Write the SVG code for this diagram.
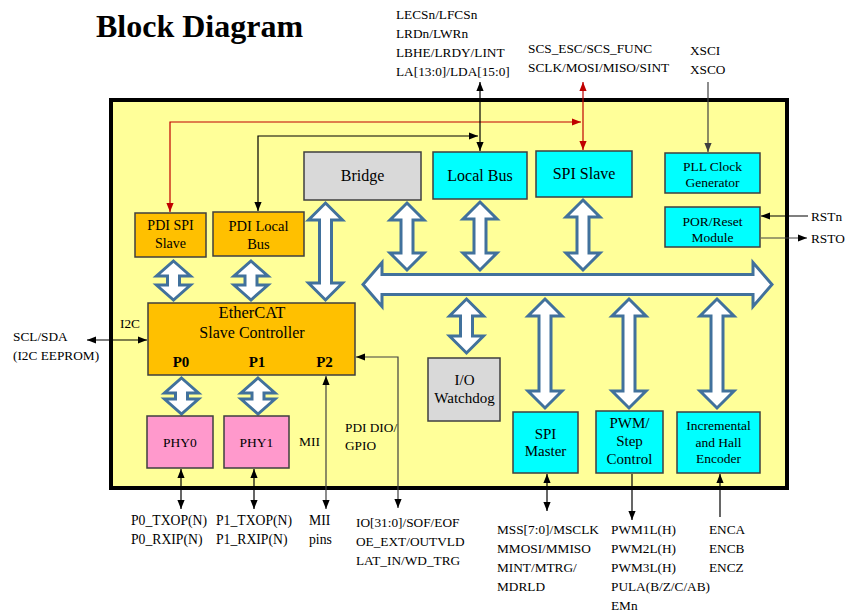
<svg xmlns="http://www.w3.org/2000/svg" width="856" height="616" viewBox="0 0 856 616">
<defs>
<style>
text{font-family:"Liberation Serif","Times New Roman",serif;fill:#000}
.t{font-size:13.3px}
.bx{stroke:#3f3f3f;stroke-width:1.5}
.or{fill:#ffc000}.cy{fill:#00ffff}.gy{fill:#d9d9d9}.pk{fill:#ff99cc}
.ba{fill:#fff;stroke:#41719c;stroke-width:3;stroke-linejoin:miter}
.ln{fill:none;stroke:#000;stroke-width:1.2}
.lr{fill:none;stroke:#c00000;stroke-width:1.2}
.lg{fill:none;stroke:#404040;stroke-width:1.2}
.c{text-anchor:middle}
</style>
<marker id="ah" viewBox="0 0 10 10" refX="10" refY="5" markerWidth="9" markerHeight="9" orient="auto-start-reverse" markerUnits="userSpaceOnUse"><path d="M0,1 L10,5 L0,9 Z" fill="#000"/></marker>
<marker id="ar" viewBox="0 0 10 10" refX="10" refY="5" markerWidth="9" markerHeight="9" orient="auto-start-reverse" markerUnits="userSpaceOnUse"><path d="M0,1 L10,5 L0,9 Z" fill="#c00000"/></marker>
<marker id="ag" viewBox="0 0 10 10" refX="10" refY="5" markerWidth="9" markerHeight="9" orient="auto-start-reverse" markerUnits="userSpaceOnUse"><path d="M0,1 L10,5 L0,9 Z" fill="#404040"/></marker>
</defs>
<rect width="856" height="616" fill="#fff"/>
<text x="96" y="37" style="font-size:32px;font-weight:bold">Block Diagram</text>

<g id="chip"><rect x="111" y="100" width="676" height="388" fill="#ffff99" stroke="#000" stroke-width="4"/></g>

<g id="buses">
<path class="ba" d="M363,284.5 L382,262.5 L382,274.5 L753,274.5 L753,262.5 L772,284.5 L753,306.5 L753,294.5 L382,294.5 L382,306.5 Z"/>
<path class="ba" d="M407,203 L424,220 L413,220 L413,253 L424,253 L407,270 L390,253 L401,253 L401,220 L390,220 Z"/>
<path class="ba" d="M480,202 L497,219 L486,219 L486,253 L497,253 L480,270 L463,253 L474,253 L474,219 L463,219 Z"/>
<path class="ba" d="M583,200 L600,217 L589,217 L589,253 L600,253 L583,270 L566,253 L577,253 L577,217 L566,217 Z"/>
<path class="ba" d="M325.5,203 L342.5,220 L331.5,220 L331.5,283 L342.5,283 L325.5,300 L308.5,283 L319.5,283 L319.5,220 L308.5,220 Z"/>
<path class="ba" d="M466.5,299 L483.5,316 L472.5,316 L472.5,336 L483.5,336 L466.5,353 L449.5,336 L460.5,336 L460.5,316 L449.5,316 Z"/>
<path class="ba" d="M545,299 L562,316 L551,316 L551,391 L562,391 L545,408 L528,391 L539,391 L539,316 L528,316 Z"/>
<path class="ba" d="M629,299 L646,316 L635,316 L635,391 L646,391 L629,408 L612,391 L623,391 L623,316 L612,316 Z"/>
<path class="ba" d="M717,299 L734,316 L723,316 L723,391 L734,391 L717,408 L700,391 L711,391 L711,316 L700,316 Z"/>
<path class="ba" d="M173.5,261 L190.5,276 L179.5,276 L179.5,285 L190.5,285 L173.5,300 L156.5,285 L167.5,285 L167.5,276 L156.5,276 Z"/>
<path class="ba" d="M251,261 L268,276 L257,276 L257,285 L268,285 L251,300 L234,285 L245,285 L245,276 L234,276 Z"/>
<path class="ba" d="M181.5,378 L198.5,393 L187.5,393 L187.5,399 L198.5,399 L181.5,414 L164.5,399 L175.5,399 L175.5,393 L164.5,393 Z"/>
<path class="ba" d="M258,378 L275,393 L264,393 L264,399 L275,399 L258,414 L241,399 L252,399 L252,393 L241,393 Z"/>
</g>

<g id="bridge"><rect class="bx gy" x="304" y="152" width="117" height="48"/><text class="c" x="362.5" y="181" style="font-size:16px">Bridge</text></g>
<g id="localbus"><rect class="bx cy" x="433" y="152" width="94" height="47"/><text class="c" x="480" y="181" style="font-size:16px">Local Bus</text></g>
<g id="spislave"><rect class="bx cy" x="536" y="151" width="96" height="46"/><text class="c" x="584" y="179" style="font-size:16px">SPI Slave</text></g>
<g id="pll"><rect class="bx cy" x="665" y="153" width="95" height="40"/><text class="c" x="712.5" y="171" style="font-size:13.5px">PLL Clock</text><text class="c" x="712.5" y="187" style="font-size:13.5px">Generator</text></g>
<g id="por"><rect class="bx cy" x="665" y="207" width="95" height="40"/><text class="c" x="712.5" y="226" style="font-size:13.5px">POR/Reset</text><text class="c" x="712.5" y="242" style="font-size:13.5px">Module</text></g>
<g id="pdispi"><rect class="bx or" x="135" y="213" width="71" height="44"/><text class="c" x="170.5" y="230" style="font-size:14px">PDI SPI</text><text class="c" x="170.5" y="248" style="font-size:14px">Slave</text></g>
<g id="pdilb"><rect class="bx or" x="213" y="212" width="91" height="44"/><text class="c" x="258.5" y="231" style="font-size:14.5px">PDI Local</text><text class="c" x="258.5" y="249" style="font-size:14.5px">Bus</text></g>
<g id="esc"><rect class="bx or" x="148" y="303" width="207" height="72"/><text class="c" x="252" y="318" style="font-size:16.5px">EtherCAT</text><text class="c" x="252" y="338" style="font-size:16px">Slave Controller</text>
<text class="c" x="181" y="367" style="font-size:15px;font-weight:bold">P0</text><text class="c" x="257" y="367" style="font-size:15px;font-weight:bold">P1</text><text class="c" x="324.5" y="367" style="font-size:15px;font-weight:bold">P2</text></g>
<g id="phy0"><rect class="bx pk" x="147" y="416" width="66" height="52"/><text class="c" x="180" y="447" style="font-size:13.5px">PHY0</text></g>
<g id="phy1"><rect class="bx pk" x="224" y="416" width="65" height="52"/><text class="c" x="256.5" y="447" style="font-size:13.5px">PHY1</text></g>
<g id="watchdog"><rect class="bx gy" x="428" y="358" width="72" height="63"/><text class="c" x="464.5" y="385" style="font-size:15px">I/O</text><text class="c" x="464.5" y="403" style="font-size:15px">Watchdog</text></g>
<g id="spimaster"><rect class="bx cy" x="513" y="412" width="65" height="61"/><text class="c" x="545.5" y="439" style="font-size:15px">SPI</text><text class="c" x="545.5" y="456" style="font-size:15px">Master</text></g>
<g id="pwm"><rect class="bx cy" x="596" y="411" width="67" height="62"/><text class="c" x="629.5" y="428" style="font-size:15px">PWM/</text><text class="c" x="629.5" y="446" style="font-size:15px">Step</text><text class="c" x="629.5" y="464" style="font-size:15px">Control</text></g>
<g id="encoder"><rect class="bx cy" x="677" y="412" width="83" height="61"/><text class="c" x="718.5" y="430" style="font-size:13.5px">Incremental</text><text class="c" x="718.5" y="447" style="font-size:13.5px">and Hall</text><text class="c" x="718.5" y="463" style="font-size:13.5px">Encoder</text></g>

<g id="connectors">
<path class="lr" d="M583,82 V150" marker-start="url(#ar)" marker-end="url(#ar)"/>
<path class="lr" d="M581,122 H170 V212" marker-start="url(#ar)" marker-end="url(#ar)"/>
<path class="ln" d="M480,82 V151" marker-start="url(#ah)" marker-end="url(#ah)"/>
<path class="ln" d="M478,136 H258 V211" marker-start="url(#ah)" marker-end="url(#ah)"/>
<path class="lg" d="M708,82 V152" marker-end="url(#ag)"/>
<path class="ln" d="M808,216 H761" marker-end="url(#ah)"/>
<path class="lg" d="M761,238 H807" marker-end="url(#ah)"/>
<path class="ln" d="M87,340 H147" marker-start="url(#ah)" marker-end="url(#ah)"/>
<path class="ln" d="M181,469 V509" marker-start="url(#ah)" marker-end="url(#ah)"/>
<path class="ln" d="M254,469 V509" marker-start="url(#ah)" marker-end="url(#ah)"/>
<path class="lg" d="M326,376 V509" marker-start="url(#ah)" marker-end="url(#ah)"/>
<path class="lg" d="M356,357 H398 V508" marker-start="url(#ah)" marker-end="url(#ah)"/>
<path class="ln" d="M547,474 V511" marker-start="url(#ah)" marker-end="url(#ah)"/>
<path class="ln" d="M632,474 V520" marker-end="url(#ah)"/>
<path class="ln" d="M720,517 V474" marker-end="url(#ah)"/>
</g>

<g id="labels" class="t">
<text x="396" y="19">LECSn/LFCSn</text>
<text x="396" y="38">LRDn/LWRn</text>
<text x="396" y="57">LBHE/LRDY/LINT</text>
<text x="396" y="76">LA[13:0]/LDA[15:0]</text>
<text x="528" y="53">SCS_ESC/SCS_FUNC</text>
<text x="528" y="72">SCLK/MOSI/MISO/SINT</text>
<text x="690" y="55">XSCI</text>
<text x="690" y="74">XSCO</text>
<text x="811" y="221">RSTn</text>
<text x="811" y="243">RSTO</text>
<text x="120" y="328">I2C</text>
<text x="13" y="341">SCL/SDA</text>
<text x="13" y="360">(I2C EEPROM)</text>
<text x="299" y="446" style="font-size:13.5px">MII</text>
<text x="345" y="432">PDI DIO/</text>
<text x="345" y="450">GPIO</text>
<g style="font-size:13.7px">
<text x="131" y="525">P0_TXOP(N)</text>
<text x="131" y="544">P0_RXIP(N)</text>
<text x="216" y="525">P1_TXOP(N)</text>
<text x="216" y="544">P1_RXIP(N)</text>
<text x="309" y="525">MII</text>
<text x="309" y="544">pins</text>
</g>
<text x="356" y="527">IO[31:0]/SOF/EOF</text>
<text x="356" y="546">OE_EXT/OUTVLD</text>
<text x="356" y="565">LAT_IN/WD_TRG</text>
<text x="497" y="534">MSS[7:0]/MSCLK</text>
<text x="497" y="553">MMOSI/MMISO</text>
<text x="497" y="572">MINT/MTRG/</text>
<text x="497" y="591">MDRLD</text>
<text x="611" y="534">PWM1L(H)</text>
<text x="611" y="553">PWM2L(H)</text>
<text x="611" y="572">PWM3L(H)</text>
<text x="611" y="591">PULA(B/Z/C/AB)</text>
<text x="611" y="610">EMn</text>
<text x="709" y="534">ENCA</text>
<text x="709" y="553">ENCB</text>
<text x="709" y="572">ENCZ</text>
</g>
</svg>
